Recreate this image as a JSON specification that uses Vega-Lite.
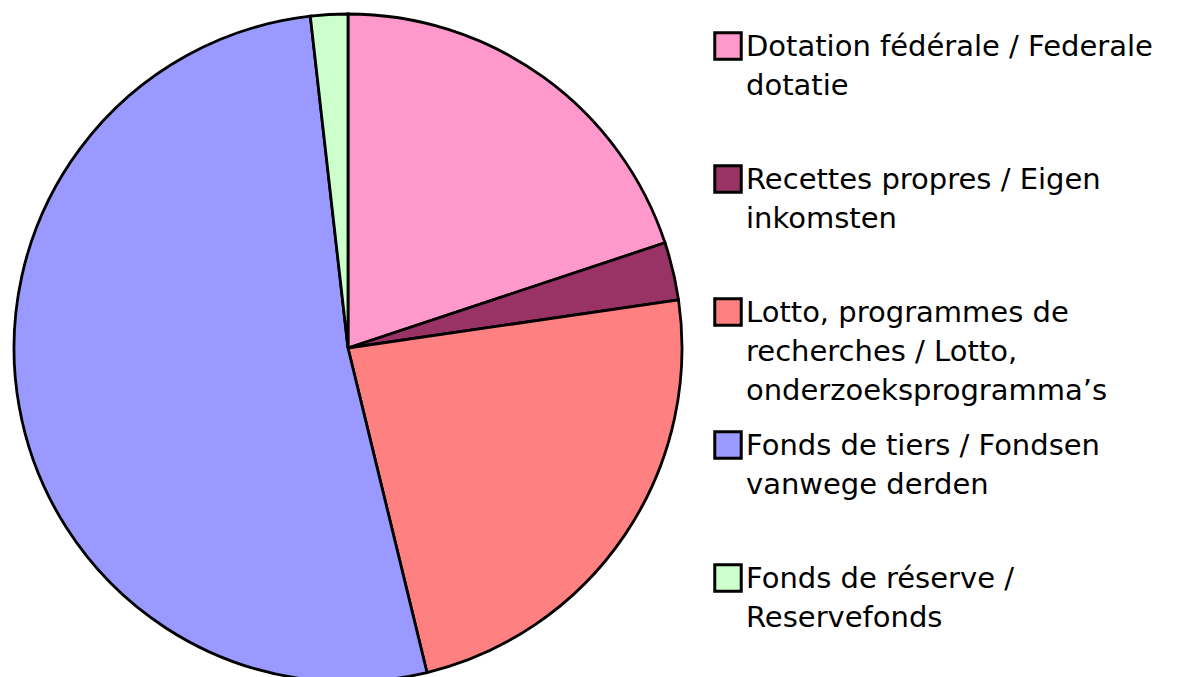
{
  "$schema": "https://vega.github.io/schema/vega-lite/v6.json",
  "width": 668,
  "height": 668,
  "autosize": {"type": "pad"},
  "padding": {"left": 8, "top": 8, "right": 0, "bottom": 0},
  "background": "white",
  "config": {"view": {"stroke": null}, "font": "DejaVu Sans"},
  "data": {
    "values": [
      {"order": 1, "source": "Dotation fédérale / Federale\ndotatie", "share": 19.9},
      {"order": 2, "source": "Recettes propres / Eigen\ninkomsten", "share": 2.8},
      {"order": 3, "source": "Lotto, programmes de\nrecherches / Lotto,\nonderzoeksprogramma’s", "share": 23.5},
      {"order": 4, "source": "Fonds de tiers / Fondsen\nvanwege derden", "share": 52.0},
      {"order": 5, "source": "Fonds de réserve /\nReservefonds", "share": 1.8}
    ]
  },
  "mark": {"type": "arc", "stroke": "black", "strokeWidth": 2.8},
  "encoding": {
    "theta": {"field": "share", "type": "quantitative", "stack": true},
    "order": {"field": "order", "type": "quantitative"},
    "color": {
      "field": "source",
      "type": "nominal",
      "scale": {
        "domain": [
          "Dotation fédérale / Federale\ndotatie",
          "Recettes propres / Eigen\ninkomsten",
          "Lotto, programmes de\nrecherches / Lotto,\nonderzoeksprogramma’s",
          "Fonds de tiers / Fondsen\nvanwege derden",
          "Fonds de réserve /\nReservefonds"
        ],
        "range": ["#FF99CC", "#993366", "#FF8080", "#9999FF", "#CCFFCC"]
      },
      "legend": {
        "title": null,
        "orient": "none",
        "legendX": 699,
        "legendY": 17,
        "symbolType": "square",
        "symbolSize": 700,
        "symbolStrokeColor": "black",
        "symbolStrokeWidth": 3,
        "symbolOpacity": 1,
        "labelExpr": "split(datum.label, '\\n')",
        "labelFont": "DejaVu Sans",
        "labelFontSize": 29,
        "labelColor": "black",
        "labelLimit": 600,
        "labelBaseline": "top",
        "labelOffset": 3,
        "rowPadding": 19,
        "gridAlign": "all",
        "encode": {
          "labels": {"update": {"lineHeight": {"value": 39}, "dy": {"value": -13}}}
        }
      }
    }
  }
}
